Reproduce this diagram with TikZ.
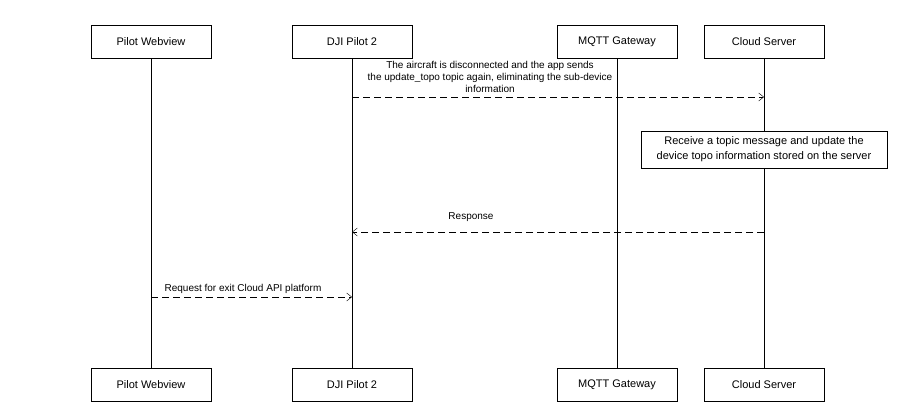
\documentclass[tikz,border=0pt]{standalone}
\usepackage{fontspec}
\setmainfont{Liberation Sans}
\usetikzlibrary{arrows.meta}
\begin{document}
\begin{tikzpicture}[x=1pt,y=-1pt,
 actor/.style={draw,fill=white,minimum width=120pt,minimum height=33pt,font=\fontsize{11}{13}\selectfont},
 life/.style={line width=1pt},
 msg/.style={dash pattern=on 7pt off 4pt,-{Straight Barb[length=5pt,width=8pt]}},
 lbl/.style={font=\fontsize{10}{12}\selectfont,align=center}]
\useasboundingbox (0,0) rectangle (900,414);
\foreach \n/\x/\t in {pw/151/Pilot Webview,dp/352/DJI Pilot 2,mq/617/MQTT Gateway,cs/764/Cloud Server}{
 \node[actor] (\n t) at (\x,41.5) {\t};
 \node[actor] (\n b) at (\x,384.5) {\t};
 \draw[life] (\n t) -- (\n b);
}
\coordinate (a1) at (352,97); \coordinate (a2) at (764,97);
\draw[msg] (a1) -- (a2);
\node[lbl] (l1) at (490,77) {The aircraft is disconnected and the app sends\\the update\_topo topic again, eliminating the sub-device\\information};
\node[draw,fill=white,minimum width=246pt,minimum height=37pt,align=center,font=\fontsize{11}{15}\selectfont] (note) at (764,149.5) {Receive a topic message and update the\\device topo information stored on the server};
\coordinate (b1) at (764,232); \coordinate (b2) at (352,232);
\draw[msg] (b1) -- (b2);
\node[lbl] (l2) at (471,217) {Response};
\coordinate (c1) at (151,297); \coordinate (c2) at (352,297);
\draw[msg] (c1) -- (c2);
\node[lbl] (l3) at (243,289) {Request for exit Cloud API platform};
\end{tikzpicture}
\end{document}
